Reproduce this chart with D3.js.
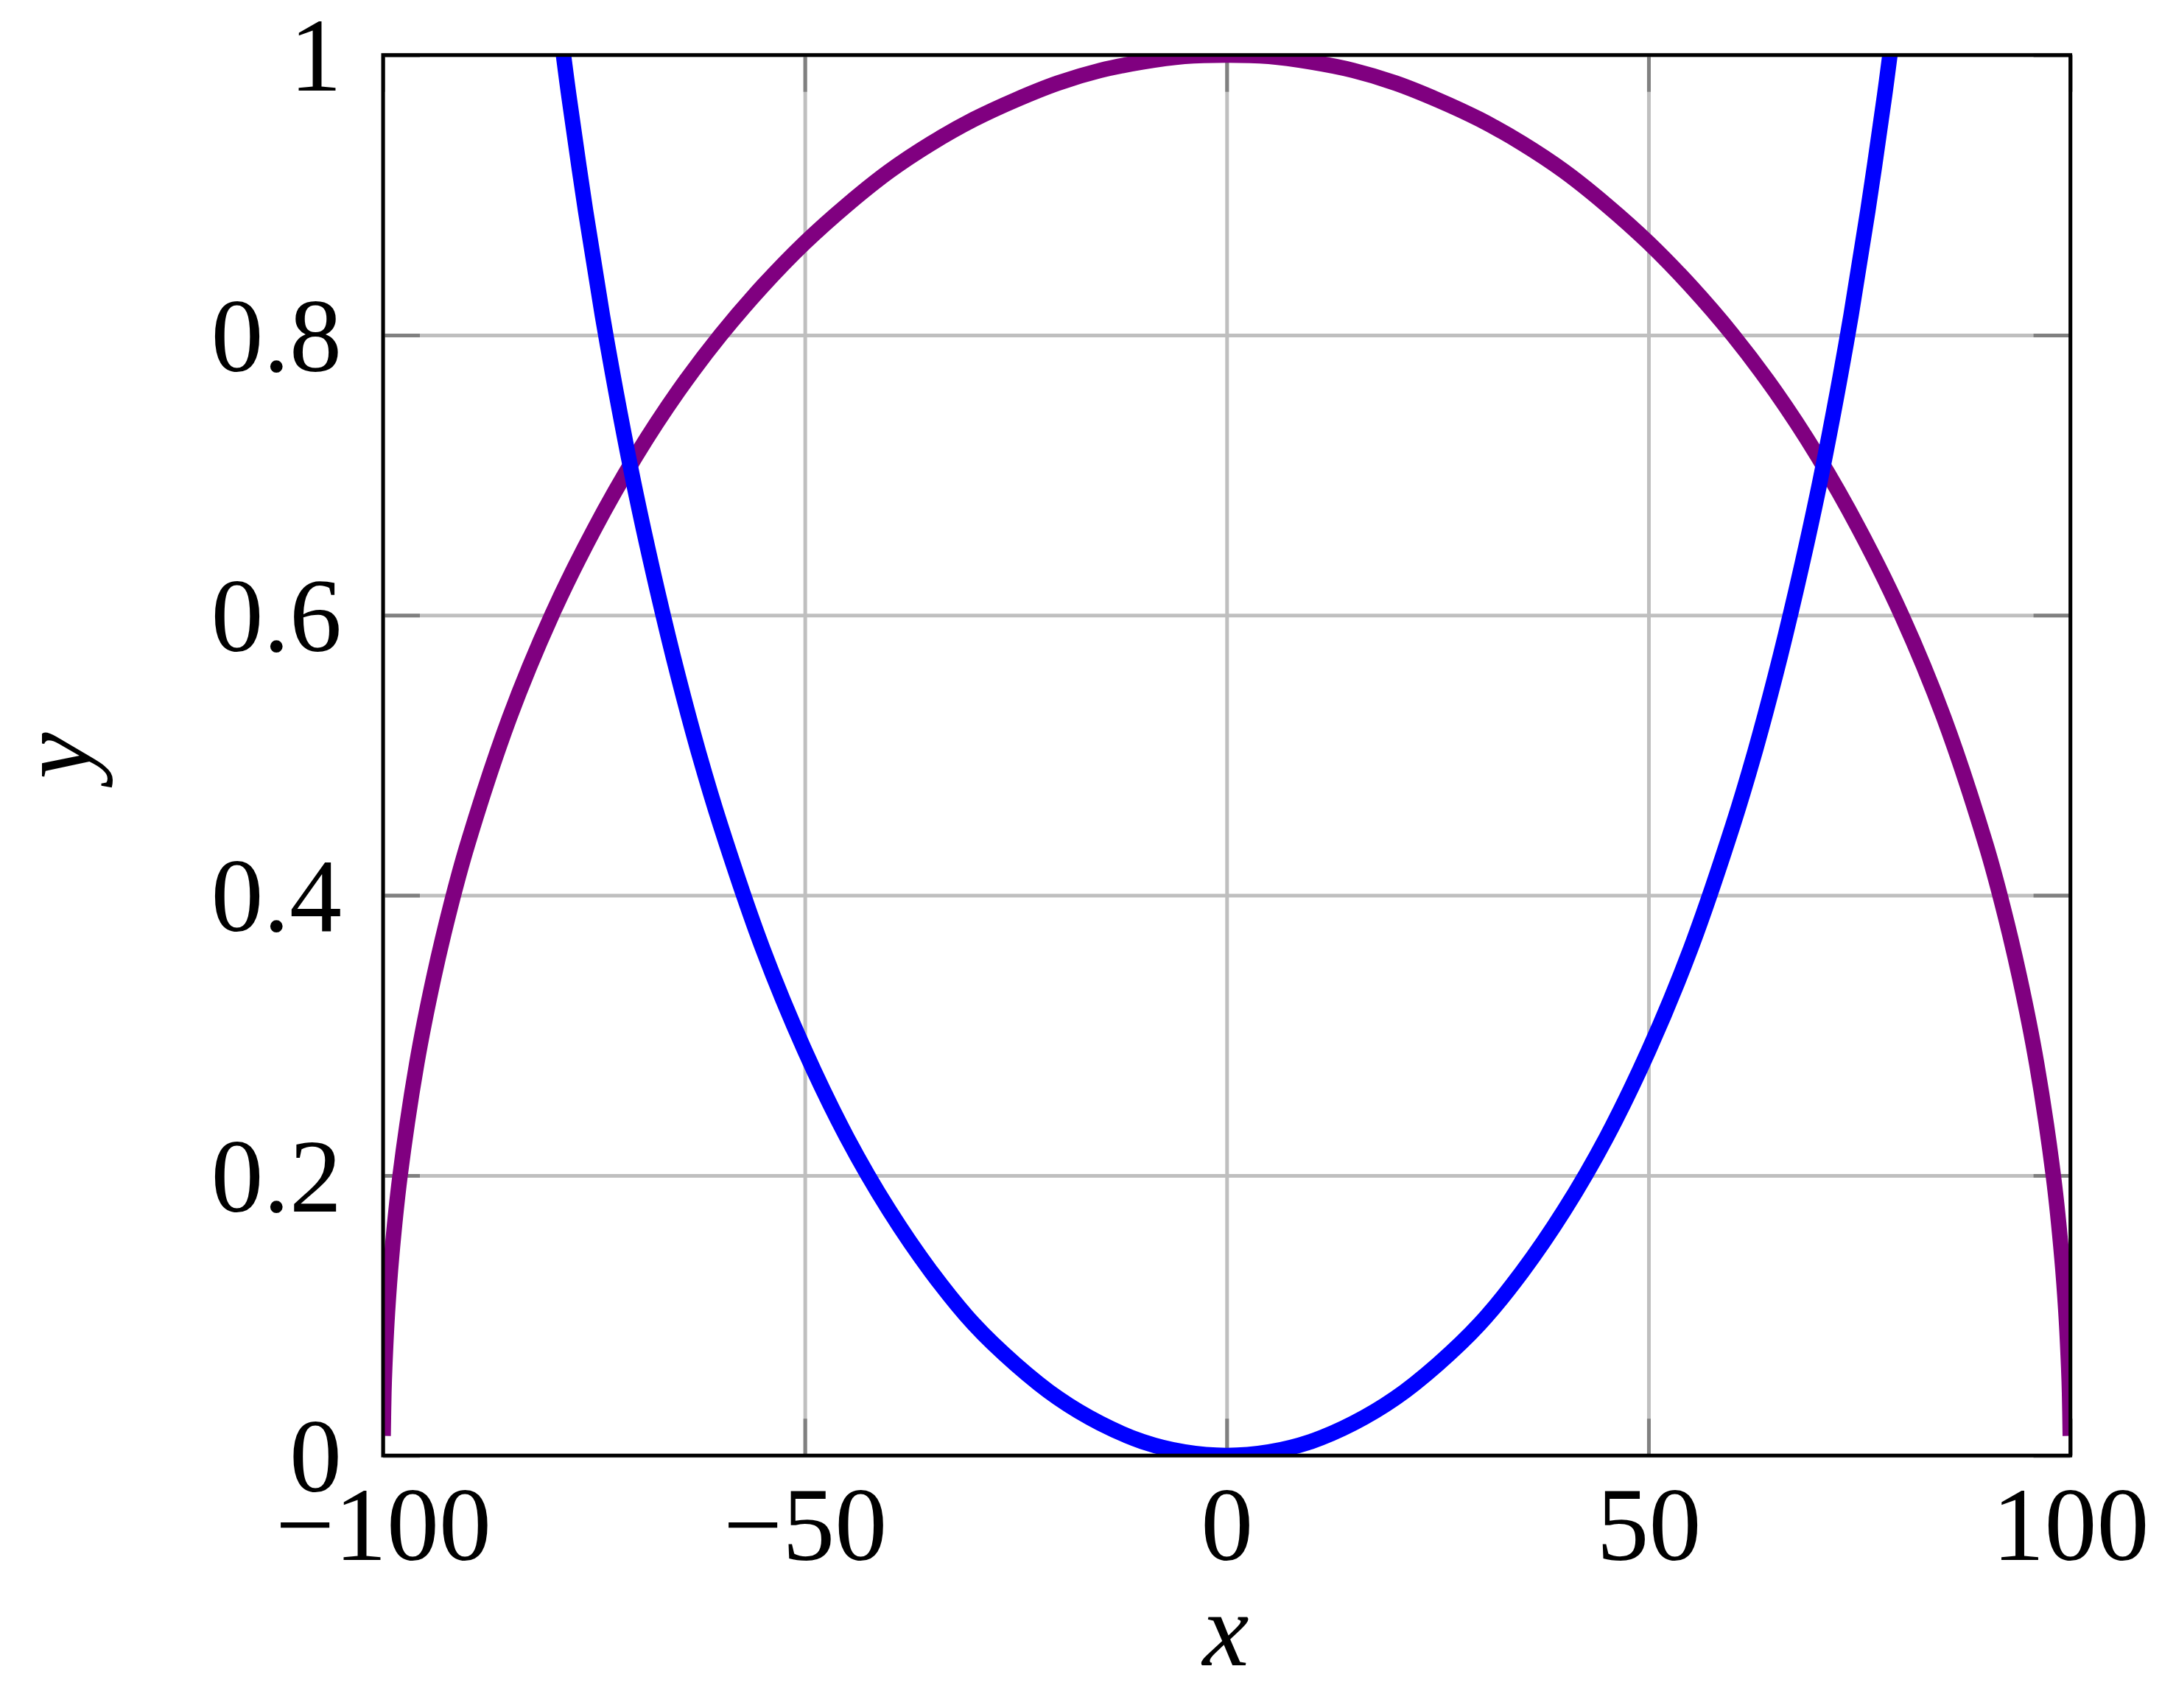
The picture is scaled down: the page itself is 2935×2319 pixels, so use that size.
<!DOCTYPE html>
<html>
<head>
<meta charset="utf-8">
<script src="https://cdn.jsdelivr.net/npm/d3@7"></script>
<style>
  body { margin: 0; background: #fff; }
  svg text { font-family: "Liberation Serif", "DejaVu Serif", serif; }
</style>
</head>
<body>
<svg width="2935" height="2319"></svg>
<script>
// ticks
const xTicks = [-100, -50, 0, 50, 100];
const yTicks = [0, 0.2, 0.4, 0.6, 0.8, 1];

// purple curve
const purpleX = [-99.99, -99.9, -99.8, -99.5, -99, -98, -96, -94, -92, -90, -85, -80, -75, -70, -65, -60, -55, -50,
  -45, -40, -35, -30, -25, -20, -15, -10, -5, 0, 5, 10, 15, 20, 25, 30, 35, 40, 45,
  50, 55, 60, 65, 70, 75, 80, 85, 90, 92, 94, 96, 98, 99, 99.5, 99.8, 99.9, 99.99];
const purpleY = [0.014, 0.045, 0.063, 0.100, 0.141, 0.199, 0.280, 0.341, 0.392, 0.436, 0.527, 0.600, 0.661, 0.714, 0.760, 0.800, 0.835, 0.866,
  0.893, 0.917, 0.937, 0.954, 0.968, 0.980, 0.989, 0.995, 0.999, 1.000, 0.999, 0.995, 0.989, 0.980, 0.968, 0.954, 0.937, 0.917, 0.893,
  0.866, 0.835, 0.800, 0.760, 0.714, 0.661, 0.600, 0.527, 0.436, 0.392, 0.341, 0.280, 0.199, 0.141, 0.100, 0.063, 0.045, 0.014];

// blue curve
const blueX = [-78.7, -78, -76, -74, -72, -70, -67.5, -65, -62.5, -60, -55, -50, -45, -40, -35, -30, -25, -20, -15, -10, -5, 0,
  5, 10, 15, 20, 25, 30, 35, 40, 45, 50, 55, 60, 62.5, 65, 67.5, 70, 72, 74, 76, 78, 78.7];
const blueY = [1.004, 0.972, 0.889, 0.814, 0.747, 0.686, 0.618, 0.556, 0.500, 0.450, 0.362, 0.289, 0.227, 0.175, 0.131, 0.094, 0.065, 0.041, 0.023, 0.010, 0.0025, 0,
  0.0025, 0.010, 0.023, 0.041, 0.065, 0.094, 0.131, 0.175, 0.227, 0.289, 0.362, 0.450, 0.500, 0.556, 0.618, 0.686, 0.747, 0.814, 0.889, 0.972, 1.004];

const marginLeft = 520, marginTop = 74.7, W = 2290.6, H = 1901.5;
const fontSize = 142;

const svg = d3.select("svg");
const g = svg.append("g").attr("transform", `translate(${marginLeft},${marginTop})`);

const x = d3.scaleLinear().domain([-100, 100]).range([0, W]);
const y = d3.scaleLinear().domain([0, 1]).range([H, 0]);

// grid
g.append("g")
  .attr("transform", `translate(0,${H})`)
  .call(d3.axisBottom(x).tickValues(xTicks).tickSize(-H).tickFormat(""))
  .call(a => a.select(".domain").remove())
  .selectAll("line").attr("stroke", "#bfbfbf").attr("stroke-width", 5);
g.append("g")
  .call(d3.axisLeft(y).tickValues(yTicks).tickSize(-W).tickFormat(""))
  .call(a => a.select(".domain").remove())
  .selectAll("line").attr("stroke", "#bfbfbf").attr("stroke-width", 5);

// inner ticks on all four sides
const tickLen = 50;
const tickAxes = [
  [d3.axisBottom(x).tickValues(xTicks), `translate(0,${H})`],
  [d3.axisTop(x).tickValues(xTicks), `translate(0,0)`],
  [d3.axisLeft(y).tickValues(yTicks), `translate(0,0)`],
  [d3.axisRight(y).tickValues(yTicks), `translate(${W},0)`]
];
tickAxes.forEach(([ax, tr]) => {
  g.append("g").attr("transform", tr)
    .call(ax.tickSize(-tickLen).tickFormat(""))
    .call(a => a.select(".domain").remove())
    .selectAll("line").attr("stroke", "#808080").attr("stroke-width", 5);
});

// tick labels
g.append("g")
  .attr("transform", `translate(0,${H})`)
  .call(d3.axisBottom(x).tickValues(xTicks).tickSize(0).tickFormat(d3.format("d")))
  .call(a => a.select(".domain").remove())
  .selectAll("text")
  .attr("y", 142).attr("dy", null)
  .attr("font-size", fontSize).attr("fill", "#000")
  .style("font-family", "'Liberation Serif', serif");

g.append("g")
  .call(d3.axisLeft(y).tickValues(yTicks).tickSize(0).tickFormat(d3.format("~g")))
  .call(a => a.select(".domain").remove())
  .selectAll("text")
  .attr("x", -56).attr("dy", "0.34em")
  .attr("font-size", fontSize).attr("fill", "#000")
  .style("font-family", "'Liberation Serif', serif");

// curves
svg.append("defs").append("clipPath").attr("id", "plotClip")
  .append("rect").attr("width", W).attr("height", H);

const line = d3.line()
  .x(d => x(d[0]))
  .y(d => y(d[1]))
  .curve(d3.curveCatmullRom.alpha(0.5));

const curves = g.append("g").attr("clip-path", "url(#plotClip)");
curves.append("path")
  .datum(d3.zip(purpleX, purpleY))
  .attr("d", line)
  .attr("fill", "none")
  .attr("stroke", "#800080")
  .attr("stroke-width", 21);
curves.append("path")
  .datum(d3.zip(blueX, blueY))
  .attr("d", line)
  .attr("fill", "none")
  .attr("stroke", "#0000ff")
  .attr("stroke-width", 21);

// frame
g.append("rect")
  .attr("width", W).attr("height", H)
  .attr("fill", "none").attr("stroke", "#000").attr("stroke-width", 5);

// axis labels
svg.append("text")
  .attr("x", 1664).attr("y", 2261)
  .attr("text-anchor", "middle")
  .attr("font-size", fontSize).attr("font-style", "italic")
  .text("x");
svg.append("text")
  .attr("transform", "translate(123,1026) rotate(-90)")
  .attr("text-anchor", "middle")
  .attr("font-size", fontSize).attr("font-style", "italic")
  .text("y");
</script>
</body>
</html>
